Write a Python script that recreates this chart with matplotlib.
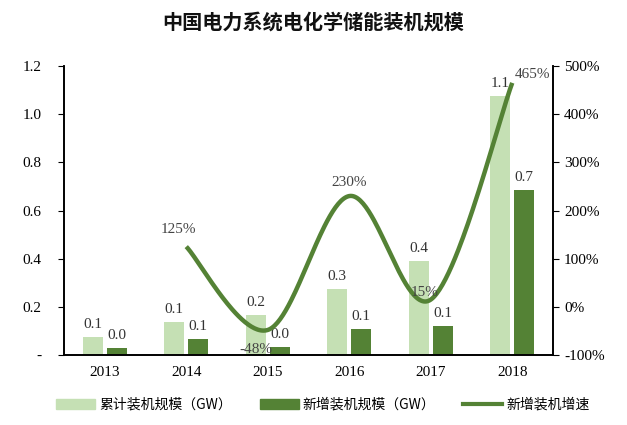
import numpy as np
import matplotlib
matplotlib.use("Agg")
import matplotlib.pyplot as plt
from matplotlib.lines import Line2D
from matplotlib.patches import Patch

years = ["2013", "2014", "2015", "2016", "2017", "2018"]
cumulative = [0.075, 0.137, 0.166, 0.274, 0.39, 1.076]
cumulative_labels = ["0.1", "0.1", "0.2", "0.3", "0.4", "1.1"]
new_added = [0.03, 0.066, 0.033, 0.108, 0.12, 0.685]
new_labels = ["0.0", "0.1", "0.0", "0.1", "0.1", "0.7"]
growth_years = ["2014", "2015", "2016", "2017", "2018"]
growth = [125, -48, 230, 15, 465]

light = "#c5e0b4"
dark = "#548235"
serif = ["Liberation Serif", "Noto Sans CJK SC"]

fig = plt.figure(figsize=(6.27, 4.25), dpi=100)
ax = fig.add_axes([64/627, 1-355/425, (553-64)/627, (355-66)/425])
ax2 = ax.twinx()

x = np.arange(len(years))
w = 0.245
off = 0.147
ax.bar(x - off, cumulative, w, color=light, zorder=2)
ax.bar(x + off, new_added, w, color=dark, zorder=2)
for xi, v, t in zip(x, cumulative, cumulative_labels):
    ax.text(xi - off, v + 0.025, t, ha="center", va="bottom", fontsize=11,
            family=serif, color="#333333")
for xi, v, t in zip(x, new_added, new_labels):
    ax.text(xi + off, v + 0.025, t, ha="center", va="bottom", fontsize=11,
            family=serif, color="#333333")

ax.set_xlim(-0.5, 5.5)
ax.set_ylim(0, 1.2)
ax.set_yticks(np.arange(0, 1.21, 0.2))
ax.set_yticklabels(["-"] + [f"{v:.1f}" for v in np.arange(0.2, 1.21, 0.2)],
                   family=serif, fontsize=11)
ax.set_xticks(x)
ax.set_xticklabels(years, family=serif, fontsize=11)
ax.tick_params(axis="x", length=0, pad=8)
ax.tick_params(axis="y", length=4, direction="out", pad=12)

# smoothed growth line (Excel-like Bezier smoothing)
gx = np.array([years.index(y) for y in growth_years], dtype=float)
gy = np.array(growth, dtype=float)
px, py = [], []
n = len(gx)
for i in range(n - 1):
    p0 = np.array([gx[max(i - 1, 0)], gy[max(i - 1, 0)]])
    p1 = np.array([gx[i], gy[i]])
    p2 = np.array([gx[i + 1], gy[i + 1]])
    p3 = np.array([gx[min(i + 2, n - 1)], gy[min(i + 2, n - 1)]])
    c1 = p1 + (p2 - p0) / 6
    c2 = p2 - (p3 - p1) / 6
    t = np.linspace(0, 1, 60)[:, None]
    b = (1 - t) ** 3 * p1 + 3 * (1 - t) ** 2 * t * c1 + 3 * (1 - t) * t ** 2 * c2 + t ** 3 * p2
    px.extend(b[:, 0]); py.extend(b[:, 1])
ax2.plot(px, py, color=dark, lw=3.2, solid_capstyle="butt", zorder=3)
ax2.set_ylim(-100, 500)
ax2.set_yticks(np.arange(-100, 501, 100))
ax2.set_yticklabels([f"{v}%" for v in range(-100, 501, 100)], family=serif, fontsize=11)
ax2.tick_params(axis="y", length=4, direction="out", pad=4)

glabel_pos = {"2014": (-0.1, 36), "2015": (-0.15, -40), "2016": (0.0, 28),
              "2017": (-0.07, 14), "2018": (0.25, 18)}
for yr, v in zip(growth_years, growth):
    dx, dy = glabel_pos[yr]
    ax2.text(years.index(yr) + dx, v + dy, f"{v}%", ha="center", va="center",
             fontsize=11, family=serif, color="#444444")

for a in (ax, ax2):
    a.spines["top"].set_visible(False)
    for s in ("left", "right", "bottom"):
        a.spines[s].set_color("black")
        a.spines[s].set_linewidth(1.2)

fig.text(0.5, 1 - 22/425, "中国电力系统电化学储能装机规模", ha="center", va="center",
         fontsize=14.5, fontweight="bold", family=["Noto Sans CJK SC"], color="#111111")

handles = [Patch(color=light), Patch(color=dark), Line2D([0], [0], color=dark, lw=3)]
labels = ["累计装机规模（GW）", "新增装机规模（GW）", "新增装机增速"]
fig.legend(handles, labels, loc="center", bbox_to_anchor=(0.515, 1 - 405/425), ncol=3,
           frameon=False, prop={"family": ["Noto Sans CJK SC"], "size": 10},
           handlelength=2.8, handleheight=0.7, columnspacing=2.0, handletextpad=0.3)

fig.savefig("out.png", dpi=100)
